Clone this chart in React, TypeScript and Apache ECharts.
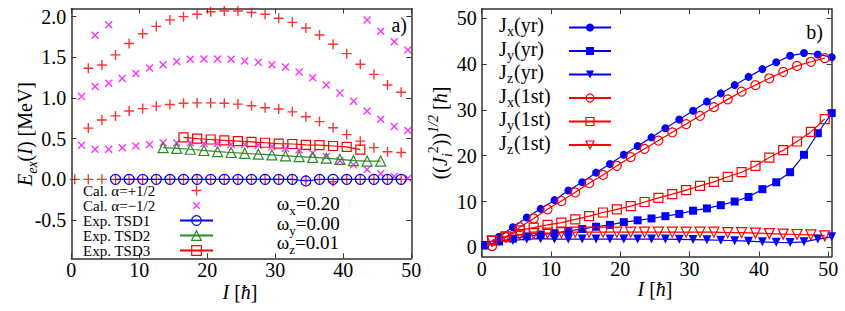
import React, { useEffect, useRef } from 'react';
import * as echarts from 'echarts';

const FONT = '"Liberation Serif", "Times New Roman", serif';

// ---------- Panel a) data ----------
const spinsA = [0.5, 2.5, 4.5, 6.5, 8.5, 10.5, 12.5, 14.5, 16.5, 18.5, 20.5, 22.5, 24.5, 26.5, 28.5, 30.5, 32.5, 34.5, 36.5, 38.5, 40.5, 42.5, 44.5, 46.5, 48.5];
const calPlusBand0 = [0, 0, 0, 0, 0, 0, 0, 0, 0, 0, 0, 0, 0, 0, 0, 0, 0, -0.01, 0, -0.03, 0, 0, 0, 0, 0];
const spinsB = [2.5, 4.5, 6.5, 8.5, 10.5, 12.5, 14.5, 16.5, 18.5, 20.5, 22.5, 24.5, 26.5, 28.5, 30.5, 32.5, 34.5, 36.5, 38.5, 40.5, 42.5, 44.5, 46.5, 48.5];
const calPlusBand1 = [0.63, 0.73, 0.78, 0.84, 0.87, 0.9, 0.92, 0.935, 0.94, 0.94, 0.935, 0.925, 0.905, 0.88, 0.865, 0.83, 0.77, 0.71, 0.635, 0.55, 0.47, 0.39, 0.34, 0.33];
const calPlusBand2 = [1.365, 1.405, 1.53, 1.67, 1.79, 1.88, 1.96, 2.0, 2.03, 2.06, 2.07, 2.07, 2.05, 2.03, 1.98, 1.93, 1.86, 1.775, 1.66, 1.545, 1.415, 1.29, 1.16, 1.07];
const spinsC = [1.5, 3.5, 5.5, 7.5, 9.5, 11.5, 13.5, 15.5, 17.5, 19.5, 21.5, 23.5, 25.5, 27.5, 29.5, 31.5, 33.5, 35.5, 37.5, 39.5, 41.5, 43.5, 45.5, 47.5, 49.5];
const calMinusBand0 = [0.42, 0.37, 0.37, 0.39, 0.41, 0.43, 0.45, 0.45, 0.45, 0.44, 0.44, 0.43, 0.43, 0.42, 0.4, 0.38, 0.36, 0.32, 0.28, 0.23, 0.18, 0.12, 0.07, 0.035, 0.015];
const calMinusBand1 = [1.02, 1.14, 1.18, 1.24, 1.3, 1.37, 1.41, 1.45, 1.475, 1.48, 1.48, 1.475, 1.455, 1.44, 1.41, 1.38, 1.32, 1.25, 1.16, 1.06, 0.96, 0.84, 0.74, 0.65, 0.6];
const spinsMinusBand2 = [3.5, 5.5, 43.5, 45.5, 47.5, 49.5];
const calMinusBand2 = [1.77, 1.9, 1.96, 1.82, 1.69, 1.59];
const spinsTSD1 = [6.5, 8.5, 10.5, 12.5, 14.5, 16.5, 18.5, 20.5, 22.5, 24.5, 26.5, 28.5, 30.5, 32.5, 34.5, 36.5, 38.5, 40.5, 42.5, 44.5, 46.5, 48.5];
const expTSD1 = [0, 0, 0, 0, 0, 0, 0, 0, 0, 0, 0, 0, 0, 0, -0.02, 0, 0, 0, 0, 0, 0, 0];
const spinsTSD2 = [13.5, 15.5, 17.5, 19.5, 21.5, 23.5, 25.5, 27.5, 29.5, 31.5, 33.5, 35.5, 37.5, 39.5, 41.5, 43.5, 45.5];
const expTSD2 = [0.39, 0.38, 0.37, 0.355, 0.34, 0.33, 0.32, 0.31, 0.3, 0.29, 0.28, 0.27, 0.26, 0.245, 0.23, 0.225, 0.225];
const spinsTSD3 = [16.5, 18.5, 20.5, 22.5, 24.5, 26.5, 28.5, 30.5, 32.5, 34.5, 36.5, 38.5, 40.5, 42.5];
const expTSD3 = [0.515, 0.5, 0.49, 0.48, 0.47, 0.46, 0.45, 0.44, 0.435, 0.425, 0.42, 0.41, 0.4, 0.365];

// ---------- Panel b) data ----------
const spinsYr = [0.5, 2.5, 4.5, 6.5, 8.5, 10.5, 12.5, 14.5, 16.5, 18.5, 20.5, 22.5, 24.5, 26.5, 28.5, 30.5, 32.5, 34.5, 36.5, 38.5, 40.5, 42.5, 44.5, 46.5, 48.5, 50.5];
const jxYr = [0.5, 2.3, 4.4, 6.5, 8.4, 10.3, 12.4, 14.2, 16.3, 18.2, 20.2, 22.1, 24.0, 26.0, 27.9, 29.8, 31.8, 33.6, 35.4, 37.2, 38.9, 40.4, 41.8, 42.4, 42.1, 41.5];
const jyYr = [0.4, 1.3, 1.9, 2.4, 2.8, 3.1, 3.6, 4.0, 4.5, 4.9, 5.5, 5.9, 6.3, 6.8, 7.3, 8.0, 8.5, 9.2, 10.0, 11.0, 12.7, 14.2, 16.4, 20.2, 24.9, 29.3];
const jzYr = [0.4, 1.2, 1.5, 1.8, 1.9, 1.8, 1.8, 1.8, 1.8, 1.8, 1.8, 1.8, 1.8, 1.8, 1.75, 1.7, 1.65, 1.55, 1.45, 1.35, 1.2, 1.1, 1.05, 1.2, 1.8, 2.3];
const spins1st = [1.5, 3.5, 5.5, 7.5, 9.5, 11.5, 13.5, 15.5, 17.5, 19.5, 21.5, 23.5, 25.5, 27.5, 29.5, 31.5, 33.5, 35.5, 37.5, 39.5, 41.5, 43.5, 45.5, 47.5, 49.5];
const jx1st = [0.3, 2.2, 4.4, 6.3, 8.3, 10.1, 12.0, 14.0, 15.8, 17.8, 19.7, 21.5, 23.3, 25.1, 26.9, 28.7, 30.6, 32.3, 34.0, 35.4, 36.9, 38.3, 39.6, 40.5, 41.3];
const jy1st = [1.5, 2.4, 3.7, 4.3, 4.9, 5.4, 6.1, 6.8, 7.6, 8.3, 9.0, 9.9, 10.8, 11.6, 12.5, 13.4, 14.3, 15.4, 16.4, 17.8, 19.6, 21.2, 23.1, 25.2, 28.0];
const jz1st = [1.3, 2.2, 2.8, 3.0, 3.1, 3.2, 3.3, 3.3, 3.3, 3.3, 3.3, 3.3, 3.3, 3.3, 3.3, 3.3, 3.3, 3.2, 3.2, 3.1, 3.0, 2.9, 2.8, 2.7, 2.5];

// ---------- ticks ----------
const xTicks = [0, 10, 20, 30, 40, 50];
const leftYTicks = [-0.5, 0, 0.5, 1, 1.5, 2];
const rightYTicks = [0, 10, 20, 30, 40, 50];

const legendLeft = ['Cal. α=+1/2', 'Cal. α=−1/2', 'Exp. TSD1', 'Exp. TSD2', 'Exp. TSD3'];
const legendRight = ['Jx(yr)', 'Jy(yr)', 'Jz(yr)', 'Jx(1st)', 'Jy(1st)', 'Jz(1st)'];
const omegaLabels = [['x', '=0.20'], ['y', '=0.00'], ['z', '=0.01']];

const zip = (xs: number[], ys: number[]) => xs.map((x, i) => [x, ys[i]]);

const PLUS = 'path://M0,0L0.01,0M12,12L11.99,12M5.3,1H6.7V5.3H11V6.7H6.7V11H5.3V6.7H1V5.3H5.3Z';
const CROSS = 'path://M0,0L0.01,0M12,12L11.99,12M2.3,3.22L3.22,2.3L6,5.08L8.78,2.3L9.7,3.22L6.92,6L9.7,8.78L8.78,9.7L6,6.92L3.22,9.7L2.3,8.78L5.08,6Z';
const DOWN = 'path://M0,0L10,0L5,10Z';

const FRAME = '#333';
const NONE = 'rgba(0,0,0,0)';

function xAxis(gridIndex: number, max: number, position: string, labels: boolean) {
  return {
    type: 'value', gridIndex, min: 0, max, position,
    axisLine: { show: true, onZero: false, lineStyle: { color: FRAME, width: 1.5 } },
    axisTick: { show: true, inside: true, length: 5, lineStyle: { color: FRAME, width: 1 }, customValues: xTicks },
    axisLabel: { show: labels, margin: 2, fontFamily: FONT, fontSize: 20, color: '#000', customValues: xTicks },
    splitLine: { show: false },
  };
}
function yAxis(gridIndex: number, min: number, max: number, position: string, labels: boolean, ticks: number[], fmt: (v: number) => string) {
  return {
    type: 'value', gridIndex, min, max, position,
    axisLine: { show: true, onZero: false, lineStyle: { color: FRAME, width: 1.5 } },
    axisTick: { show: true, inside: true, length: 5, lineStyle: { color: FRAME, width: 1 }, customValues: ticks },
    axisLabel: { show: labels, margin: 5, fontFamily: FONT, fontSize: 20, color: '#000', customValues: ticks, formatter: fmt },
    splitLine: { show: false },
  };
}

function lineSeries(name: string, data: number[][], xi: number, yi: number, color: string, symbol: string, size: number, filled: boolean) {
  return {
    type: 'line', name, data, xAxisIndex: xi, yAxisIndex: yi,
    symbol, symbolSize: size, showSymbol: true,
    lineStyle: { color, width: 1.2 },
    itemStyle: filled ? { color } : { color: NONE, borderColor: color, borderWidth: 1.2 },
    emphasis: { disabled: true },
    z: 3,
  };
}

const mainR = { fontFamily: FONT, fontSize: 20, color: '#000', fill: '#000' };

function buildOption() {
  const legendRich = {
    j: { fontFamily: FONT, fontSize: 20, color: '#000', height: 17, padding: [0, 0, 5, 0], verticalAlign: 'bottom', align: 'left', width: 8 },
    s: { fontFamily: FONT, fontSize: 14, color: '#000', height: 14, verticalAlign: 'bottom', align: 'left', width: 7 },
    r: { fontFamily: FONT, fontSize: 20, color: '#000', height: 17, padding: [0, 0, 5, 0], verticalAlign: 'bottom', align: 'left', width: 50 },
  };
  const graphicRichY1 = {
    i: { ...mainR, fontStyle: 'italic', height: 18, padding: [0, 0, 5, 0], verticalAlign: 'bottom' },
    n: { ...mainR, height: 18, padding: [0, 0, 5, 0], verticalAlign: 'bottom' },
    s: { ...mainR, fontSize: 14, fontStyle: 'italic', height: 14, verticalAlign: 'bottom' },
  };
  const graphicRichY2 = {
    i: { ...mainR, fontStyle: 'italic', height: 18, padding: [0, 0, 5, 0], verticalAlign: 'bottom' },
    n: { ...mainR, height: 18, padding: [0, 0, 5, 0], verticalAlign: 'bottom' },
    sb: { ...mainR, fontSize: 14, fontStyle: 'italic', height: 14, verticalAlign: 'bottom' },
    sp: { ...mainR, fontSize: 14, height: 14, padding: [0, 0, 14, 0], verticalAlign: 'bottom' },
    spi: { ...mainR, fontSize: 14, fontStyle: 'italic', height: 14, padding: [0, 0, 14, 0], verticalAlign: 'bottom' },
  };
  const richX = {
    i: { ...mainR, fontStyle: 'italic' },
    n: { ...mainR },
  };
  const omegaRich = {
    w: { ...mainR, fontSize: 19, height: 17, padding: [0, 0, 5, 0], verticalAlign: 'bottom' },
    s: { ...mainR, fontSize: 13, height: 13, verticalAlign: 'bottom' },
  };
  const omegaY = [194.8, 214.6, 234.2];

  return {
    animation: false,
    backgroundColor: '#fff',
    textStyle: { fontFamily: FONT },
    grid: [
      { left: 71.3, top: 8.5, width: 340, height: 249.8, outerBoundsMode: 'none' },
      { left: 481.7, top: 9.1, width: 350, height: 247.4, outerBoundsMode: 'none' },
    ],
    xAxis: [
      xAxis(0, 50, 'bottom', true),
      xAxis(0, 50, 'top', false),
      xAxis(1, 50.5, 'bottom', true),
      xAxis(1, 50.5, 'top', false),
    ],
    yAxis: [
      yAxis(0, -0.97, 2.1, 'left', true, leftYTicks, (v: number) => v.toFixed(1)),
      yAxis(0, -0.97, 2.1, 'right', false, leftYTicks, (v: number) => v.toFixed(1)),
      yAxis(1, -2, 52, 'left', true, rightYTicks, (v: number) => String(v)),
      yAxis(1, -2, 52, 'right', false, rightYTicks, (v: number) => String(v)),
    ],
    legend: [
      {
        orient: 'vertical', left: 83, top: 183, padding: 0, itemGap: 0,
        itemWidth: 33, itemHeight: 12, align: 'right', selectedMode: false,
        data: legendLeft.map((n, i) => (i < 2 ? { name: n } : { name: n, itemStyle: { borderWidth: 1.2 } })),
        formatter: (n: string) => `{t|${n}}`,
        textStyle: { rich: { t: { fontFamily: FONT, fontSize: 15, color: '#000', height: 14.4, width: 92, align: 'left' } } },
      },
      {
        orient: 'vertical', left: 499, top: 15, padding: 0, itemGap: 0,
        itemWidth: 42, itemHeight: 10, align: 'right', selectedMode: false,
        data: legendRight.map((n) => ({ name: n, itemStyle: { borderWidth: 1.2 } })),
        formatter: (n: string) => `{j|J}{s|${n[1]}}{r|${n.slice(2)}}`,
        textStyle: { rich: legendRich },
      },
    ],
    series: [
      {
        type: 'scatter', name: legendLeft[0], xAxisIndex: 0, yAxisIndex: 0,
        data: [...zip(spinsA, calPlusBand0), ...zip(spinsB, calPlusBand1), ...zip(spinsB, calPlusBand2)],
        symbol: PLUS, symbolSize: 12, itemStyle: { color: '#ff0000' }, emphasis: { disabled: true },
      },
      {
        type: 'scatter', name: legendLeft[1], xAxisIndex: 0, yAxisIndex: 0,
        data: [...zip(spinsC, calMinusBand0), ...zip(spinsC, calMinusBand1), ...zip(spinsMinusBand2, calMinusBand2)],
        symbol: CROSS, symbolSize: 13, itemStyle: { color: '#ff00ff' }, emphasis: { disabled: true },
      },
      lineSeries(legendLeft[2], zip(spinsTSD1, expTSD1), 0, 0, '#0000ff', 'circle', 10, false),
      lineSeries(legendLeft[3], zip(spinsTSD2, expTSD2), 0, 0, '#2a8a2a', 'triangle', 10, false),
      lineSeries(legendLeft[4], zip(spinsTSD3, expTSD3), 0, 0, '#ff0000', 'rect', 9, false),

      lineSeries(legendRight[0], zip(spinsYr, jxYr), 2, 2, '#0000ff', 'circle', 8, true),
      lineSeries(legendRight[1], zip(spinsYr, jyYr), 2, 2, '#0000ff', 'rect', 8, true),
      lineSeries(legendRight[2], zip(spinsYr, jzYr), 2, 2, '#0000ff', DOWN, 9, true),
      lineSeries(legendRight[3], zip(spins1st, jx1st), 2, 2, '#ff0000', 'circle', 9, false),
      lineSeries(legendRight[4], zip(spins1st, jy1st), 2, 2, '#ff0000', 'rect', 9, false),
      lineSeries(legendRight[5], zip(spins1st, jz1st), 2, 2, '#ff0000', DOWN, 10, false),
    ],
    graphic: [
      { type: 'text', x: 407, y: 25, silent: true, style: { text: 'a)', ...mainR, align: 'right', verticalAlign: 'middle' } },
      { type: 'text', x: 823, y: 32, silent: true, style: { text: 'b)', ...mainR, align: 'right', verticalAlign: 'middle' } },
      ...omegaLabels.map((o, k) => ({
        type: 'text', x: 276.7, y: omegaY[k], silent: true,
        style: { text: `{w|ω}{s|${o[0]}}{w|${o[1]}}`, rich: omegaRich, ...mainR, fontSize: 19, align: 'left', verticalAlign: 'top' },
      })),
      {
        type: 'text', x: 27.5, y: 134, rotation: Math.PI / 2, silent: true,
        style: { text: '{i|E}{s|ex}{n|(}{i|I}{n|) [MeV]}', rich: graphicRichY1, ...mainR, align: 'center', verticalAlign: 'middle' },
      },
      {
        type: 'text', x: 440, y: 133, rotation: Math.PI / 2, silent: true,
        style: { text: '{n|((}{i|J}{sb|i}{sp|2}{n|))}{spi|1/2}{n| [}{i|ħ}{n|]}', rich: graphicRichY2, ...mainR, align: 'center', verticalAlign: 'middle' },
      },
      {
        type: 'text', x: 240, y: 291.5, silent: true,
        style: { text: '{i|I}{n| [}{i|ħ}{n|]}', rich: richX, ...mainR, align: 'center', verticalAlign: 'middle' },
      },
      {
        type: 'text', x: 655, y: 288.5, silent: true,
        style: { text: '{i|I}{n| [}{i|ħ}{n|]}', rich: richX, ...mainR, align: 'center', verticalAlign: 'middle' },
      },
    ],
  };
}

export default function App() {
  const ref = useRef<HTMLDivElement>(null);
  useEffect(() => {
    const chart = echarts.init(ref.current as HTMLDivElement, null, { renderer: 'svg' });
    chart.setOption(buildOption() as any);
    return () => chart.dispose();
  }, []);
  return (
    <div
      ref={ref}
      style={{ position: 'fixed', left: 0, top: 0, width: 845, height: 311, background: '#fff' }}
    />
  );
}
